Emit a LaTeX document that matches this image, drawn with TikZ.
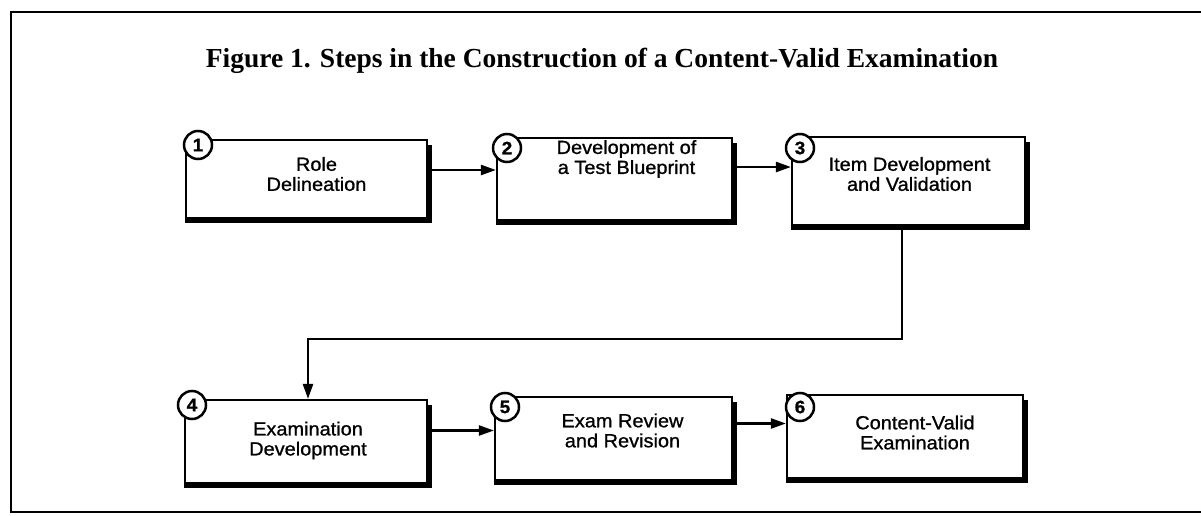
\documentclass[tikz,border=0pt]{standalone}
\usepackage{fontspec}
\setmainfont{Liberation Serif}
\newfontfamily\boxfont[FakeStretch=1.05,FakeBold=1]{Liberation Sans}
\usetikzlibrary{arrows.meta,calc}
\begin{document}
\begin{tikzpicture}[x=1pt,y=-1pt,
  stepbox/.style={draw,line width=2.2pt,minimum width=238pt,minimum height=82pt,inner sep=0pt},
  lbl/.style={font=\boxfont\fontsize{19}{20}\selectfont,align=center,inner sep=0pt},
  num/.style={circle,draw,line width=2.5pt,fill=white,minimum size=28pt,inner sep=0pt,font=\boxfont\bfseries\fontsize{18}{18}\selectfont},
  arr/.style={line width=2.4pt,-{Triangle[length=15pt,width=10pt]}},
  shadowline/.style={line width=5pt,line cap=butt}
]
\useasboundingbox (0,0) rectangle (1201,516);
% outer frame
\draw[line width=2.2pt] (1210,12) -- (11,12) -- (11,512) -- (1210,512);
% title
\node[font=\bfseries\fontsize{27.5}{29}\selectfont,inner sep=0pt] (title) at (602,61) {Figure 1. Steps in the Construction of a Content-Valid Examination};
% boxes
\node[stepbox,minimum width=241pt,minimum height=78pt] (b1) at (306.5,179) {};
\node[stepbox,minimum width=235pt,minimum height=82pt] (b2) at (614.5,179) {};
\node[stepbox,minimum width=233pt,minimum height=88pt] (b3) at (908.5,181) {};
\node[stepbox,minimum width=242pt,minimum height=83pt] (b4) at (306,441.5) {};
\node[stepbox,minimum width=237pt,minimum height=83pt] (b5) at (613.5,438.5) {};
\node[stepbox,minimum width=236pt,minimum height=83pt] (b6) at (905,436.5) {};
% shadows
\foreach \b in {b1,b2,b3,b4,b5,b6}{
  \draw[shadowline] ([xshift=1.5pt,yshift=-6pt]\b.north east) -- ([xshift=1.5pt,yshift=-1.5pt]\b.south east) -- ([yshift=-1.5pt]\b.south west);
}
% labels
\node[lbl] (l1) at ($(b1.center)+(10,-5)$) {Role\\Delineation};
\node[lbl] (l2) at ($(b2.center)+(12,-20)$) {Development of\\a Test Blueprint};
\node[lbl] (l3) at ($(b3.center)+(1,-7)$) {Item Development\\and Validation};
\node[lbl] (l4) at ($(b4.center)+(2,-1)$) {Examination\\Development};
\node[lbl] (l5) at ($(b5.center)+(9,-8)$) {Exam Review\\and Revision};
\node[lbl] (l6) at ($(b6.center)+(10,-4)$) {Content-Valid\\Examination};
% number circles
\node[num] (n1) at (198,145) {1};
\node[num] (n2) at (507,148) {2};
\node[num] (n3) at (800,148) {3};
\node[num] (n4) at (192,405) {4};
\node[num] (n5) at (505,407) {5};
\node[num] (n6) at (800,407) {6};
% connectors
\draw[arr] ([yshift=9pt]b1.east) -- ([yshift=9pt]b1.east -| b2.west);
\draw[arr] ([yshift=12pt]b2.east) -- ([yshift=12pt]b2.east -| b3.west);
\draw[arr] ([xshift=-6.5pt]b3.south) -- ++(0,113) -| ([xshift=2pt]b4.north);
\draw[arr] ([yshift=11pt]b4.east) -- ([yshift=11pt]b4.east -| b5.west);
\draw[arr] ([yshift=15pt]b5.east) -- ([yshift=15pt]b5.east -| b6.west);
\end{tikzpicture}
\end{document}
